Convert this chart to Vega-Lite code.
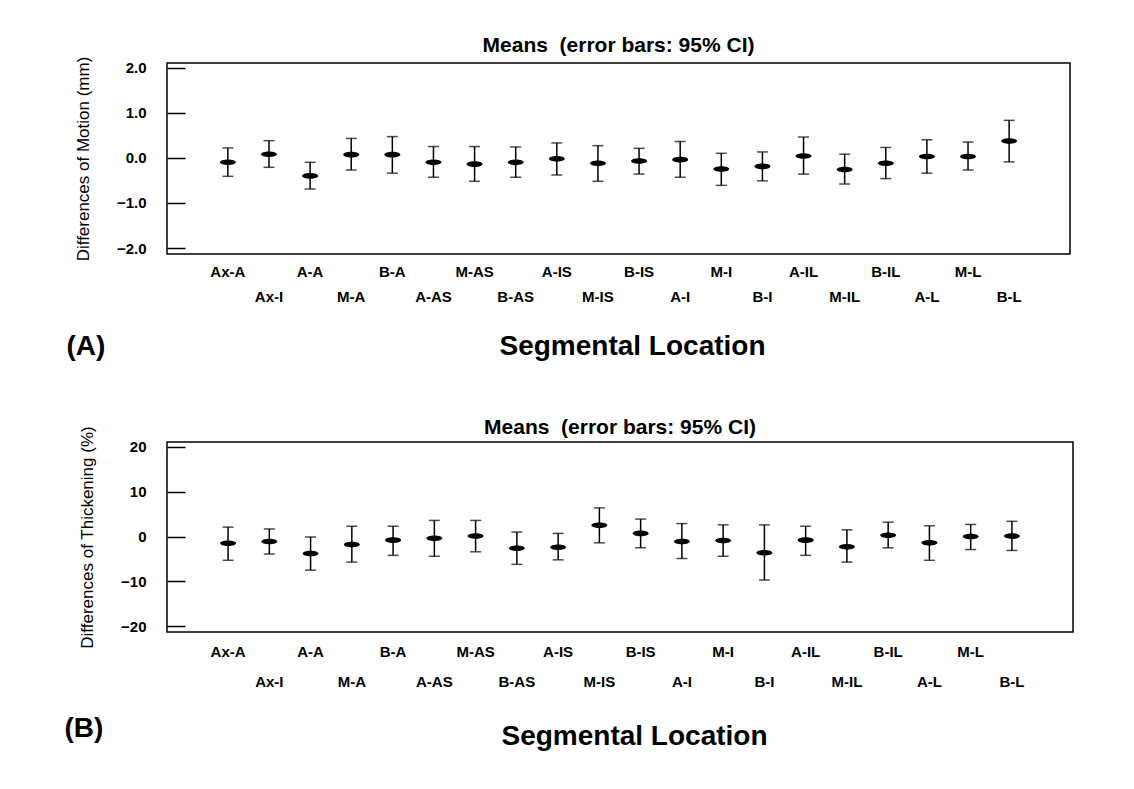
{
  "$schema": "https://vega.github.io/schema/vega-lite/v6.json",
  "background": "white",
  "padding": {"left": 63, "top": 34, "right": 5, "bottom": 5},
  "config": {
    "font": "Liberation Sans",
    "view": {"stroke": "black", "strokeWidth": 1.5},
    "axis": {"labelColor": "black", "titleColor": "black", "tickColor": "black", "grid": false, "domain": false},
    "title": {"color": "black"}
  },
  "datasets": {
    "motion": [
      {"loc": "Ax-A", "mean": -0.10, "lo": -0.41, "hi": 0.22},
      {"loc": "Ax-I", "mean": 0.08, "lo": -0.21, "hi": 0.38},
      {"loc": "A-A", "mean": -0.40, "lo": -0.69, "hi": -0.10},
      {"loc": "M-A", "mean": 0.07, "lo": -0.27, "hi": 0.43},
      {"loc": "B-A", "mean": 0.07, "lo": -0.34, "hi": 0.47},
      {"loc": "A-AS", "mean": -0.10, "lo": -0.43, "hi": 0.25},
      {"loc": "M-AS", "mean": -0.14, "lo": -0.52, "hi": 0.25},
      {"loc": "B-AS", "mean": -0.10, "lo": -0.43, "hi": 0.24},
      {"loc": "A-IS", "mean": -0.02, "lo": -0.38, "hi": 0.33},
      {"loc": "M-IS", "mean": -0.12, "lo": -0.52, "hi": 0.27},
      {"loc": "B-IS", "mean": -0.07, "lo": -0.36, "hi": 0.21},
      {"loc": "A-I", "mean": -0.04, "lo": -0.43, "hi": 0.36},
      {"loc": "M-I", "mean": -0.25, "lo": -0.61, "hi": 0.10},
      {"loc": "B-I", "mean": -0.19, "lo": -0.51, "hi": 0.13},
      {"loc": "A-IL", "mean": 0.04, "lo": -0.36, "hi": 0.46},
      {"loc": "M-IL", "mean": -0.26, "lo": -0.58, "hi": 0.08},
      {"loc": "B-IL", "mean": -0.12, "lo": -0.46, "hi": 0.23},
      {"loc": "A-L", "mean": 0.03, "lo": -0.34, "hi": 0.40},
      {"loc": "M-L", "mean": 0.03, "lo": -0.27, "hi": 0.35},
      {"loc": "B-L", "mean": 0.37, "lo": -0.09, "hi": 0.83}
    ],
    "thick": [
      {"loc": "Ax-A", "mean": -1.5, "lo": -5.3, "hi": 2.1},
      {"loc": "Ax-I", "mean": -1.1, "lo": -3.9, "hi": 1.7},
      {"loc": "A-A", "mean": -3.8, "lo": -7.5, "hi": -0.1},
      {"loc": "M-A", "mean": -1.8, "lo": -5.7, "hi": 2.3},
      {"loc": "B-A", "mean": -0.8, "lo": -4.2, "hi": 2.3},
      {"loc": "A-AS", "mean": -0.4, "lo": -4.4, "hi": 3.6},
      {"loc": "M-AS", "mean": 0.1, "lo": -3.4, "hi": 3.6},
      {"loc": "B-AS", "mean": -2.6, "lo": -6.2, "hi": 1.0},
      {"loc": "A-IS", "mean": -2.4, "lo": -5.2, "hi": 0.7},
      {"loc": "M-IS", "mean": 2.5, "lo": -1.4, "hi": 6.4},
      {"loc": "B-IS", "mean": 0.7, "lo": -2.5, "hi": 3.9},
      {"loc": "A-I", "mean": -1.1, "lo": -4.9, "hi": 2.9},
      {"loc": "M-I", "mean": -0.9, "lo": -4.4, "hi": 2.6},
      {"loc": "B-I", "mean": -3.6, "lo": -9.7, "hi": 2.6},
      {"loc": "A-IL", "mean": -0.8, "lo": -4.2, "hi": 2.3},
      {"loc": "M-IL", "mean": -2.3, "lo": -5.7, "hi": 1.5},
      {"loc": "B-IL", "mean": 0.3, "lo": -2.5, "hi": 3.2},
      {"loc": "A-L", "mean": -1.4, "lo": -5.3, "hi": 2.4},
      {"loc": "M-L", "mean": 0.0, "lo": -2.9, "hi": 2.7},
      {"loc": "B-L", "mean": 0.1, "lo": -3.1, "hi": 3.4}
    ]
  },
  "vconcat": [
    {
      "width": 903,
      "height": 191,
      "data": {"name": "motion"},
      "title": {"text": "Means\u00a0 (error bars: 95% CI)", "fontSize": 21, "fontWeight": "bold", "offset": 0},
      "resolve": {"axis": {"x": "independent"}},
      "layer": [
        {
          "mark": {"type": "rule", "color": "black", "strokeWidth": 1.5},
          "encoding": {
            "x": {"field": "loc", "type": "ordinal", "sort": null, "scale": {"type": "band", "paddingInner": 0, "paddingOuter": 0.98},
              "axis": {"title": "Segmental Location", "titleFontSize": 28, "titleFontWeight": "bold", "titlePadding": 28, "titleX": 465,
                "labelAngle": 0, "labelFontSize": 15, "labelFontWeight": "bold", "labelPadding": 10, "labelLineHeight": 25,
                "ticks": false, "labelBaseline": "top",
                "labelExpr": "indexof(['Ax-I','M-A','A-AS','B-AS','M-IS','A-I','B-I','M-IL','A-L','B-L'], datum.value) >= 0 ? ['', datum.label] : datum.label"}},
            "y": {"field": "lo", "type": "quantitative", "scale": {"domain": [-2.13, 2.1], "nice": false, "zero": false},
              "axis": {"title": "Differences of Motion (mm)", "titleFontSize": 17, "titleFontWeight": "normal", "titlePadding": 24,
                "values": [-2, -1.5, -1, -0.5, 0, 0.5, 1, 1.5, 2],
                "labelExpr": "datum.value % 1 === 0 ? format(datum.value, '.1f') : ''",
                "labelFontSize": 15, "labelFontWeight": "bold", "labelPadding": 39,
                "tickSize": {"condition": {"test": "datum.value % 1 !== 0", "value": -10}, "value": -18},
                "tickWidth": 1.5}},
            "y2": {"field": "hi"}
          }
        },
        {
          "mark": {"type": "tick", "color": "black", "size": 11, "thickness": 1.5},
          "encoding": {
            "x": {"field": "loc", "type": "ordinal", "sort": null, "axis": null},
            "y": {"field": "lo", "type": "quantitative"}
          }
        },
        {
          "mark": {"type": "tick", "color": "black", "size": 11, "thickness": 1.5},
          "encoding": {
            "x": {"field": "loc", "type": "ordinal", "sort": null, "axis": null},
            "y": {"field": "hi", "type": "quantitative"}
          }
        },
        {
          "mark": {"type": "point", "shape": "M-1,0A1,0.35,0,1,1,1,0A1,0.35,0,1,1,-1,0Z", "filled": true, "size": 256, "color": "black", "opacity": 1},
          "encoding": {
            "x": {"field": "loc", "type": "ordinal", "sort": null,
              "axis": {"title": "(A)", "titleFontSize": 28, "titleFontWeight": "bold", "titleAnchor": "start", "titleAlign": "left",
                "titleBaseline": "middle", "titleX": -101, "titleY": 283, "labels": false, "ticks": false, "domain": false}},
            "y": {"field": "mean", "type": "quantitative"}
          }
        }
      ]
    },
    {
      "width": 906,
      "height": 190,
      "data": {"name": "thick"},
      "title": {"text": "Means\u00a0 (error bars: 95% CI)", "fontSize": 21, "fontWeight": "bold", "offset": -12},
      "resolve": {"axis": {"x": "independent"}},
      "layer": [
        {
          "mark": {"type": "rule", "color": "black", "strokeWidth": 1.5},
          "encoding": {
            "x": {"field": "loc", "type": "ordinal", "sort": null, "scale": {"type": "band", "paddingInner": 0, "paddingOuter": 0.98},
              "axis": {"title": "Segmental Location", "titleFontSize": 28, "titleFontWeight": "bold", "titlePadding": 33, "titleX": 467,
                "labelAngle": 0, "labelFontSize": 15, "labelFontWeight": "bold", "labelPadding": 12, "labelLineHeight": 30,
                "ticks": false, "labelBaseline": "top",
                "labelExpr": "indexof(['Ax-I','M-A','A-AS','B-AS','M-IS','A-I','B-I','M-IL','A-L','B-L'], datum.value) >= 0 ? ['', datum.label] : datum.label"}},
            "y": {"field": "lo", "type": "quantitative", "scale": {"domain": [-21.3, 21.1], "nice": false, "zero": false},
              "axis": {"title": "Differences of Thickening (%)", "titleFontSize": 17, "titleFontWeight": "normal", "titlePadding": 24,
                "values": [-20, -15, -10, -5, 0, 5, 10, 15, 20],
                "labelExpr": "datum.value % 10 === 0 ? format(datum.value, 'd') : ''",
                "labelFontSize": 15, "labelFontWeight": "bold", "labelPadding": 39,
                "tickSize": {"condition": {"test": "datum.value % 10 !== 0", "value": -10}, "value": -18},
                "tickWidth": 1.5}},
            "y2": {"field": "hi"}
          }
        },
        {
          "mark": {"type": "tick", "color": "black", "size": 11, "thickness": 1.5},
          "encoding": {
            "x": {"field": "loc", "type": "ordinal", "sort": null, "axis": null},
            "y": {"field": "lo", "type": "quantitative"}
          }
        },
        {
          "mark": {"type": "tick", "color": "black", "size": 11, "thickness": 1.5},
          "encoding": {
            "x": {"field": "loc", "type": "ordinal", "sort": null, "axis": null},
            "y": {"field": "hi", "type": "quantitative"}
          }
        },
        {
          "mark": {"type": "point", "shape": "M-1,0A1,0.35,0,1,1,1,0A1,0.35,0,1,1,-1,0Z", "filled": true, "size": 256, "color": "black", "opacity": 1},
          "encoding": {
            "x": {"field": "loc", "type": "ordinal", "sort": null,
              "axis": {"title": "(B)", "titleFontSize": 28, "titleFontWeight": "bold", "titleAnchor": "start", "titleAlign": "left",
                "titleBaseline": "middle", "titleX": -103, "titleY": 286, "labels": false, "ticks": false, "domain": false}},
            "y": {"field": "mean", "type": "quantitative"}
          }
        }
      ]
    }
  ],
  "spacing": 54
}
